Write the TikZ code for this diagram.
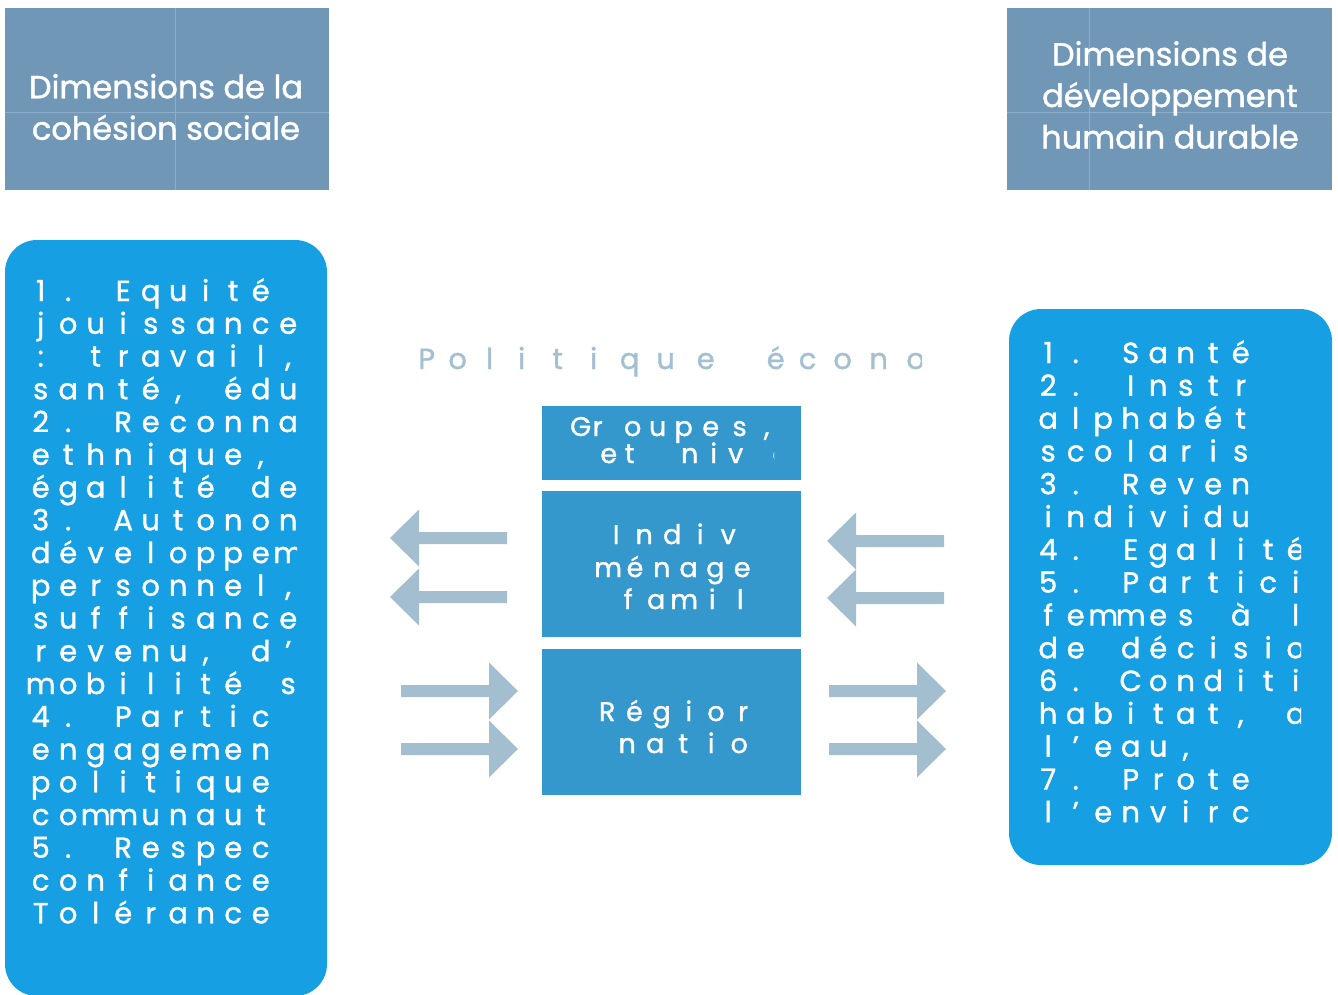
\documentclass[tikz,border=0pt]{standalone}
\usepackage{fontspec}
\setmainfont{Poppins}
\newfontfamily\boxfont{Poppins}[FakeBold=1.2]
\definecolor{headc}{HTML}{7197B7}
\definecolor{headline}{HTML}{8DAECA}
\definecolor{bigc}{HTML}{179FE3}
\definecolor{midc}{HTML}{3598CC}
\definecolor{arrowc}{HTML}{A3BECE}
\definecolor{polc}{HTML}{A4BFD0}
\ExplSyntaxOn
\NewDocumentCommand\gl{mm}{\tl_map_inline:nn{#2}{\makebox[#1][c]{##1}}}
\ExplSyntaxOff
\newcommand\pchars[1]{\foreach \px/\pc in {#1}{\rlap{\hspace*{\px pt}\makebox[0pt][c]{\pc}}}}
\tikzset{
  headbox/.style={fill=headc, draw=none},
  bigbox/.style={fill=bigc, draw=none, rounded corners=32pt},
  midbox/.style={fill=midc, draw=none, inner sep=0pt, minimum width=259pt},
  headtext/.style={text=white, align=center, font=\boxfont\fontsize{32}{41.5}\selectfont, inner sep=0pt},
  gtext/.style={text=white, anchor=base west, inner sep=0pt, font=\boxfont\fontsize{29}{29}\selectfont},
  ctext/.style={text=white, anchor=base west, inner sep=0pt, font=\boxfont\fontsize{27}{27}\selectfont},
  poltext/.style={text=polc, anchor=base west, inner sep=0pt, font=\boxfont\fontsize{29}{29}\selectfont},
  larrow/.pic={\fill[arrowc] (0,0) -- (29,-28.5) -- (29,-6) -- (117,-6) -- (117,6) -- (29,6) -- (29,28.5) -- cycle;},
  rarrow/.pic={\fill[arrowc] (0,0) -- (-29,-28.5) -- (-29,-6) -- (-117,-6) -- (-117,6) -- (-29,6) -- (-29,28.5) -- cycle;}
}
\begin{document}
\begin{tikzpicture}[x=1pt,y=-1pt]
\useasboundingbox (0,0) rectangle (1338,994);
% headers
\fill[headbox] (5,8) rectangle (329,190);
\draw[headline, line width=0.8pt] (175,8) -- (175,190) (5,112) -- (329,112);
\node[headtext] (hleft) at (166,107) {Dimensions de la\\cohésion sociale};
\fill[headbox] (1007,8) rectangle (1332,190);
\draw[headline, line width=0.8pt] (1089,8) -- (1089,190) (1007,112) -- (1332,112);
\node[headtext] (hright) at (1170,95) {Dimensions de\\développement\\humain durable};
% big boxes
\fill[bigbox] (5,240) rectangle (327,996);
\fill[bigbox] (1009,309) rectangle (1332,865);
\begin{scope}
\clip (0,240) rectangle (297,994);
\node[gtext] (l1) at (26.75,301) {\gl{27.5pt}{1.~Equité}};
\node[gtext] (l2) at (26.75,333.75) {\gl{27.5pt}{jouissance}};
\node[gtext] (l3) at (26.75,366.5) {\gl{27.5pt}{:~travail,}};
\node[gtext] (l4) at (26.75,399.25) {\gl{27.5pt}{santé,~édu}};
\node[gtext] (l5) at (26.75,432) {\gl{27.5pt}{2.~Reconna}};
\node[gtext] (l6) at (26.75,464.75) {\gl{27.5pt}{ethnique,}};
\node[gtext] (l7) at (26.75,497.5) {\gl{27.5pt}{égalité~de}};
\node[gtext] (l8) at (26.75,530.25) {\gl{27.5pt}{3.~Autonon}};
\node[gtext] (l9) at (26.75,563) {\gl{27.5pt}{développem}};
\node[gtext] (l10) at (26.75,595.75) {\gl{27.5pt}{personnel,}};
\node[gtext] (l11) at (26.75,628.5) {\gl{27.5pt}{suffisance}};
\node[gtext] (l12) at (26.75,661.25) {\gl{27.5pt}{revenu,~d’}};
\node[gtext] (l13) at (26.75,694) {\gl{27.5pt}{mobilité~s}};
\node[gtext] (l14) at (26.75,726.75) {\gl{27.5pt}{4.~Partic}};
\node[gtext] (l15) at (26.75,759.5) {\gl{27.5pt}{engagemen}};
\node[gtext] (l16) at (26.75,792.25) {\gl{27.5pt}{politique}};
\node[gtext] (l17) at (26.75,825) {\gl{27.5pt}{communaut}};
\node[gtext] (l18) at (26.75,857.75) {\gl{27.5pt}{5.~Respec}};
\node[gtext] (l19) at (26.75,890.5) {\gl{27.5pt}{confiance}};
\node[gtext] (l20) at (26.75,923.25) {\gl{27.5pt}{Tolérance}};
\end{scope}
\begin{scope}
\clip (1009,309) rectangle (1301,865);
\node[gtext] (r1) at (1034.25,363) {\gl{27.5pt}{1.~Santé}};
\node[gtext] (r2) at (1034.25,395.8) {\gl{27.5pt}{2.~Instr}};
\node[gtext] (r3) at (1034.25,428.6) {\gl{27.5pt}{alphabét}};
\node[gtext] (r4) at (1034.25,461.4) {\gl{27.5pt}{scolaris}};
\node[gtext] (r5) at (1034.25,494.2) {\gl{27.5pt}{3.~Reven}};
\node[gtext] (r6) at (1034.25,527) {\gl{27.5pt}{individu}};
\node[gtext] (r7) at (1034.25,559.8) {\gl{27.5pt}{4.~Egalité}};
\node[gtext] (r8) at (1034.25,592.6) {\gl{27.5pt}{5.~Partici}};
\node[gtext] (r9) at (1034.25,625.4) {\gl{27.5pt}{femmes~à~l}};
\node[gtext] (r10) at (1034.25,658.2) {\gl{27.5pt}{de~décisio}};
\node[gtext] (r11) at (1034.25,691) {\gl{27.5pt}{6.~Conditi}};
\node[gtext] (r12) at (1034.25,723.8) {\gl{27.5pt}{habitat,~a}};
\node[gtext] (r13) at (1034.25,756.6) {\gl{27.5pt}{l’eau,}};
\node[gtext] (r14) at (1034.25,789.4) {\gl{27.5pt}{7.~Prote}};
\node[gtext] (r15) at (1034.25,822.2) {\gl{27.5pt}{l’envirc}};
\end{scope}
% Politique
\begin{scope}
\clip (400,330) rectangle (922,385);
\node[poltext] (pol) at (426,369) {\pchars{0/P,31/o,63/l,95/i,131/t,167/i,203/q,239/u,279/e,349/é,381/c,416/o,452/n,489/o}};
\end{scope}
% middle boxes
\node[midbox, minimum height=74pt] (grp) at (671.5,443) {};
\node[midbox, minimum height=146pt] (ind) at (671.5,564) {};
\node[midbox, minimum height=146pt] (reg) at (671.5,722) {};
\begin{scope}
\clip (542,406) rectangle (774,480);
\node[ctext] (g1) at (580,436) {\pchars{0/G,17/r,52/o,77/u,103/p,130/e,159/s,186/{,}}};
\node[ctext] (g2) at (608,463) {\pchars{0/e,21/t,81/n,105/i,127/v,172/e}};
\end{scope}
\begin{scope}
\clip (542,491) rectangle (750,795);
\node[ctext] (i1) at (602,544) {\gl{28pt}{Indiv}};
\node[ctext] (i2) at (594.6,577) {\gl{26.8pt}{ménage}};
\node[ctext] (i3) at (614,609) {\gl{28pt}{famil}};
\node[ctext] (rg1) at (593.4,721) {\gl{27.2pt}{Régior}};
\node[ctext] (rg2) at (613,753) {\gl{28pt}{natio}};
\end{scope}
% arrows
\pic at (390,538) {larrow};
\pic at (390,597) {larrow};
\pic at (827,541) {larrow};
\pic at (827,598) {larrow};
\pic at (518,691) {rarrow};
\pic at (518,749) {rarrow};
\pic at (946,691) {rarrow};
\pic at (946,749) {rarrow};
\end{tikzpicture}
\end{document}
